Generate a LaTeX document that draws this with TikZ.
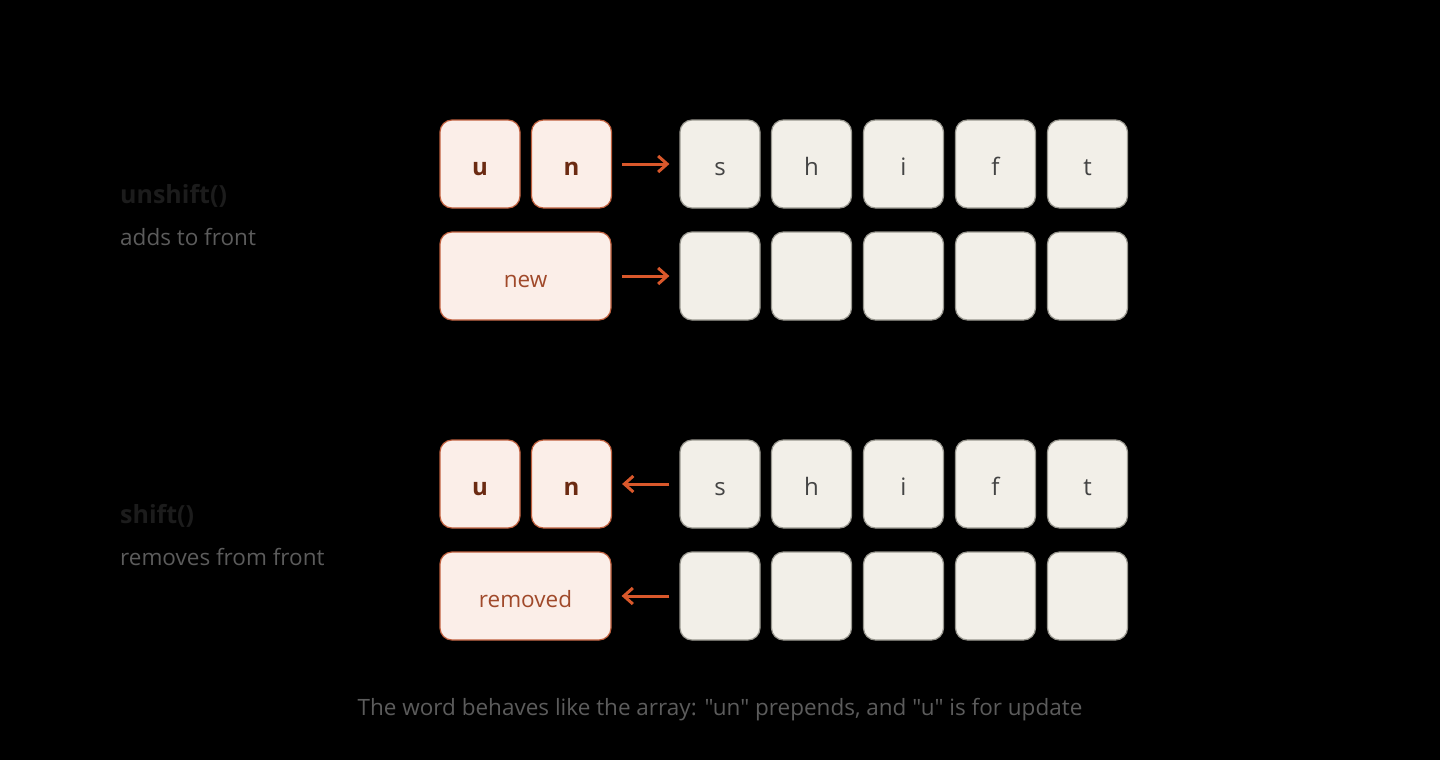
\documentclass[tikz,border=0pt]{standalone}
\usepackage{fontspec}
\setmainfont{Open Sans}[Ligatures=TeXOff]
\usetikzlibrary{arrows.meta}
\definecolor{pinkfill}{HTML}{FBEEE8}
\definecolor{pinkline}{HTML}{C0603E}
\definecolor{pinktext}{HTML}{6B2A12}
\definecolor{pinklabel}{HTML}{A0492A}
\definecolor{grayfill}{HTML}{F2EFE8}
\definecolor{grayline}{HTML}{9A9890}
\definecolor{graytext}{HTML}{444444}
\definecolor{arrowc}{HTML}{D9582B}
\definecolor{subtext}{HTML}{5C5C5C}
\definecolor{titletext}{HTML}{1C1C1C}
\tikzset{
  cell/.style={rounded corners=12pt, minimum width=80pt, minimum height=88pt, inner sep=0pt, line width=1.2pt, text height=22pt, text depth=0pt},
  pinkcell/.style={cell, draw=pinkline, fill=pinkfill, text=pinktext, font=\fontsize{24}{26}\selectfont\bfseries},
  widecell/.style={cell, minimum width=171pt, draw=pinkline, fill=pinkfill, text=pinklabel, font=\fontsize{22.5}{26}\selectfont},
  graycell/.style={cell, draw=grayline, fill=grayfill, text=graytext, font=\fontsize{24}{26}\selectfont},
  arr/.style={draw=arrowc, line width=3pt, -{Straight Barb[length=9pt,width=16pt,line width=3pt]}},
  titlelabel/.style={anchor=west, text=titletext, font=\fontsize{25}{28}\selectfont\bfseries, inner sep=0pt},
  sublabel/.style={anchor=west, text=subtext, font=\fontsize{22.5}{26}\selectfont, inner sep=0pt},
  captionlabel/.style={text=subtext, font=\fontsize{22.5}{26}\selectfont, inner sep=0pt}
}
\begin{document}
\begin{tikzpicture}[x=1pt,y=-1pt]
\fill[black] (0,0) rectangle (1440,760);
\useasboundingbox (0,0) rectangle (1440,760);
% labels
\node[titlelabel] (t1) at (120,196) {unshift()};
\node[sublabel] (s1) at (120,237) {adds to front};
\node[titlelabel] (t2) at (120,516) {shift()};
\node[sublabel] (s2) at (120,557) {removes from front};
% row 1
\node[pinkcell] (r1u) at (480,164) {u};
\node[pinkcell] (r1n) at (571.5,164) {n};
\node[graycell] (r1s) at (720,164) {s};
\node[graycell] (r1h) at (811.5,164) {h};
\node[graycell] (r1i) at (903.5,164) {i};
\node[graycell] (r1f) at (995.5,164) {f};
\node[graycell] (r1t) at (1087.5,164) {t};
\draw[arr] ([xshift=10pt]r1n.east) -- ([xshift=-10pt]r1s.west);
% row 2
\node[widecell] (r2new) at (525.5,276) {new};
\node[graycell] (r2a) at (720,276) {};
\node[graycell] (r2b) at (811.5,276) {};
\node[graycell] (r2c) at (903.5,276) {};
\node[graycell] (r2d) at (995.5,276) {};
\node[graycell] (r2e) at (1087.5,276) {};
\draw[arr] ([xshift=10pt]r2new.east) -- ([xshift=-10pt]r2a.west);
% row 3
\node[pinkcell] (r3u) at (480,484) {u};
\node[pinkcell] (r3n) at (571.5,484) {n};
\node[graycell] (r3s) at (720,484) {s};
\node[graycell] (r3h) at (811.5,484) {h};
\node[graycell] (r3i) at (903.5,484) {i};
\node[graycell] (r3f) at (995.5,484) {f};
\node[graycell] (r3t) at (1087.5,484) {t};
\draw[arr] ([xshift=-10pt]r3s.west) -- ([xshift=10pt]r3n.east);
% row 4
\node[widecell] (r4rem) at (525.5,596) {removed};
\node[graycell] (r4a) at (720,596) {};
\node[graycell] (r4b) at (811.5,596) {};
\node[graycell] (r4c) at (903.5,596) {};
\node[graycell] (r4d) at (995.5,596) {};
\node[graycell] (r4e) at (1087.5,596) {};
\draw[arr] ([xshift=-10pt]r4a.west) -- ([xshift=10pt]r4rem.east);
% caption
\node[captionlabel] (caption) at (720,710) {The word behaves like the array: "un" prepends, and "u" is for update};
\end{tikzpicture}
\end{document}
